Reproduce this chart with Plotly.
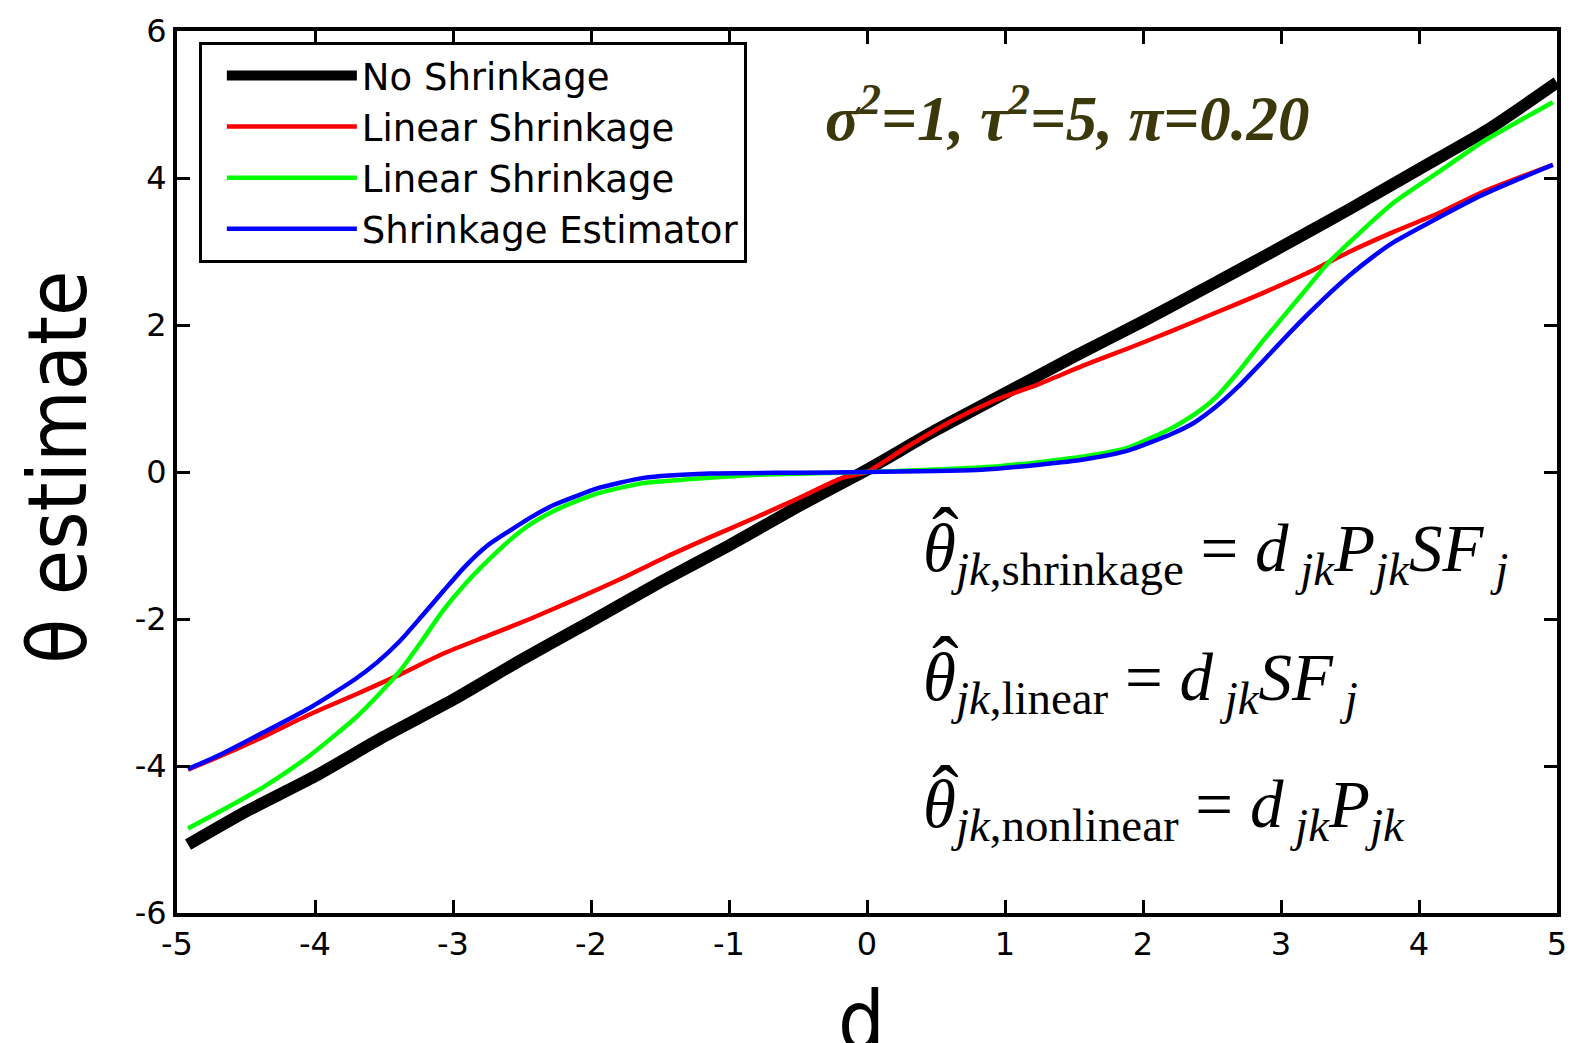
import plotly.graph_objects as go

# ---------------- data ----------------
x_ticks = [-5, -4, -3, -2, -1, 0, 1, 2, 3, 4, 5]
x_ticktext = ["-5", "-4", "-3", "-2", "-1", "0", "1", "2", "3", "4", "5"]
y_ticks = [-6, -4, -2, 0, 2, 4, 6]
y_ticktext = ["-6", "-4", "-2", "0", "2", "4", "6"]

series_names = ["No Shrinkage", "Linear Shrinkage", "Linear Shrinkage", "Shrinkage Estimator"]

d_none = [-4.92, -4.5, -4.0, -3.5, -3.0, -2.5, -2.0, -1.5, -1.0, -0.5, 0.0,
          0.5, 1.0, 1.5, 2.0, 2.5, 3.0, 3.5, 4.0, 4.5, 5.0]
theta_none = [-5.07, -4.62, -4.14, -3.6, -3.1, -2.55, -2.03, -1.5, -1.0, -0.47, 0.03,
              0.57, 1.07, 1.57, 2.05, 2.55, 3.06, 3.58, 4.12, 4.66, 5.3]

d_linear = [-4.92, -4.57, -4.36, -4.04, -3.71, -3.39, -3.07, -2.75, -2.43, -2.11,
            -1.79, -1.46, -1.14, -0.82, -0.50, -0.18, 0.0, 0.28, 0.60, 0.92,
            1.25, 1.57, 1.89, 2.21, 2.53, 2.85, 3.17, 3.50, 3.82, 4.14, 4.46, 4.97]
theta_linear = [-4.05, -3.77, -3.59, -3.30, -3.03, -2.76, -2.47, -2.23, -1.99, -1.73,
                -1.46, -1.16, -0.89, -0.63, -0.36, -0.08, 0.0, 0.33, 0.68, 0.97,
                1.20, 1.45, 1.68, 1.92, 2.17, 2.42, 2.69, 3.00, 3.27, 3.52, 3.81, 4.18]

d_nonlin = [-4.92, -4.68, -4.36, -4.04, -3.71, -3.55, -3.39, -3.23, -3.07, -2.91,
            -2.75, -2.59, -2.43, -2.27, -2.11, -1.95, -1.62, -1.30, -0.82, 0.0,
            0.96, 1.57, 1.89, 2.21, 2.37, 2.53, 2.69, 2.85, 3.01, 3.17, 3.34,
            3.50, 3.66, 3.82, 4.14, 4.46, 4.97]
theta_nonlin = [-4.85, -4.61, -4.27, -3.86, -3.35, -3.05, -2.72, -2.31, -1.88, -1.52,
                -1.21, -0.93, -0.70, -0.53, -0.40, -0.29, -0.15, -0.10, -0.04, 0.0,
                0.08, 0.21, 0.33, 0.60, 0.78, 1.02, 1.36, 1.74, 2.10, 2.46, 2.84,
                3.13, 3.41, 3.67, 4.08, 4.49, 5.03]

d_shrink = [-4.92, -4.68, -4.36, -4.04, -3.71, -3.55, -3.39, -3.23, -3.07, -2.91,
            -2.75, -2.59, -2.43, -2.27, -2.11, -1.95, -1.62, -1.14, -0.50, 0.0,
            0.83, 1.25, 1.57, 1.89, 2.21, 2.37, 2.53, 2.69, 2.85, 3.01, 3.17,
            3.34, 3.50, 3.66, 3.82, 4.14, 4.46, 4.97]
theta_shrink = [-4.04, -3.84, -3.53, -3.21, -2.82, -2.59, -2.31, -1.97, -1.62, -1.28,
                -1.00, -0.80, -0.61, -0.45, -0.33, -0.22, -0.08, -0.02, -0.01, 0.0,
                0.03, 0.10, 0.17, 0.29, 0.52, 0.67, 0.89, 1.16, 1.47, 1.79, 2.10,
                2.41, 2.68, 2.92, 3.13, 3.46, 3.77, 4.18]

# ---------------- figure ----------------
W, H = 1579, 1043
ML, MR, MT, MB = 177, 13, 25, 130
PW, PH = W - ML - MR, H - MT - MB


def px_x(p):
    return (p - ML) / PW


def px_y(p):
    return (H - MB - p) / PH


line_opts = dict(shape="spline", smoothing=0.6)
fig = go.Figure()
fig.add_trace(go.Scatter(x=d_none, y=theta_none, mode="lines", name=series_names[0],
                         legendgroup="a", line=dict(color="#000000", width=12, **line_opts)))
fig.add_trace(go.Scatter(x=d_linear, y=theta_linear, mode="lines", name=series_names[1],
                         legendgroup="b", line=dict(color="#ff0000", width=4.5, **line_opts)))
fig.add_trace(go.Scatter(x=d_nonlin, y=theta_nonlin, mode="lines", name=series_names[2],
                         legendgroup="c", line=dict(color="#00ff00", width=4.5, **line_opts)))
fig.add_trace(go.Scatter(x=d_shrink, y=theta_shrink, mode="lines", name=series_names[3],
                         legendgroup="d", line=dict(color="#0000ff", width=4.5, **line_opts)))

tickfont = dict(family="DejaVu Sans, Verdana, sans-serif", size=32, color="black")
axis_common = dict(showgrid=False, zeroline=False, showline=True, linewidth=4,
                   linecolor="black", mirror="allticks", ticks="inside", ticklen=13,
                   tickwidth=3, tickcolor="black", tickfont=tickfont)

fig.update_xaxes(range=[-5, 5], tickvals=x_ticks, ticktext=x_ticktext, **axis_common)
fig.update_yaxes(range=[-6, 6], tickvals=y_ticks, ticktext=y_ticktext, **axis_common)

serif = "Liberation Serif, Times New Roman, serif"
narrow = "Liberation Sans Narrow, Arial Narrow, DejaVu Sans Condensed, sans-serif"
fsz = 67

annotations = [
    dict(text="θ estimate", textangle=-90, x=px_x(56), y=px_y(464),
         font=dict(family=narrow, size=82, color="black")),
    dict(text="d", x=px_x(866), y=px_y(1021),
         font=dict(family=narrow, size=82, color="black")),
    dict(text="σ<sup>2</sup>=1, τ<sup>2</sup>=5, π=0.20", x=px_x(1073), y=px_y(109),
         font=dict(family=serif, size=63, color="#3b380c", weight="bold", style="italic")),
    dict(text="<i>θ</i><sub><i>jk</i>,shrinkage</sub> = <i>d</i><sub> <i>jk</i></sub>"
              "<i>P</i><sub><i>jk</i></sub><i>SF</i><sub> <i>j</i></sub>",
         x=px_x(926), y=px_y(551), xanchor="left",
         font=dict(family=serif, size=fsz, color="black")),
    dict(text="<i>θ</i><sub><i>jk</i>,linear</sub> = <i>d</i><sub> <i>jk</i></sub>"
              "<i>SF</i><sub> <i>j</i></sub>",
         x=px_x(926), y=px_y(680), xanchor="left",
         font=dict(family=serif, size=fsz, color="black")),
    dict(text="<i>θ</i><sub><i>jk</i>,nonlinear</sub> = <i>d</i><sub> <i>jk</i></sub>"
              "<i>P</i><sub><i>jk</i></sub>",
         x=px_x(926), y=px_y(808), xanchor="left",
         font=dict(family=serif, size=fsz, color="black")),
]
# hats over the three thetas
for hy in (510, 640, 770):
    annotations.append(dict(text="ˆ", x=px_x(951), y=px_y(hy + 23),
                            font=dict(family=serif, size=80, color="black")))

for a in annotations:
    a.setdefault("xanchor", "center")
    a.setdefault("yanchor", "middle")
    a.update(xref="paper", yref="paper", showarrow=False)

fig.update_layout(
    width=W, height=H,
    margin=dict(l=ML, r=MR, t=MT, b=MB, pad=0),
    paper_bgcolor="white", plot_bgcolor="white",
    showlegend=True,
    legend=dict(x=px_x(199), y=px_y(36), xanchor="left", yanchor="top",
                bgcolor="white", bordercolor="black", borderwidth=3,
                font=dict(family="DejaVu Sans, Verdana, sans-serif", size=37, color="black"),
                itemwidth=130, indentation=20, tracegroupgap=0, traceorder="grouped"),
    annotations=annotations,
)

fig.write_html("out.html")
